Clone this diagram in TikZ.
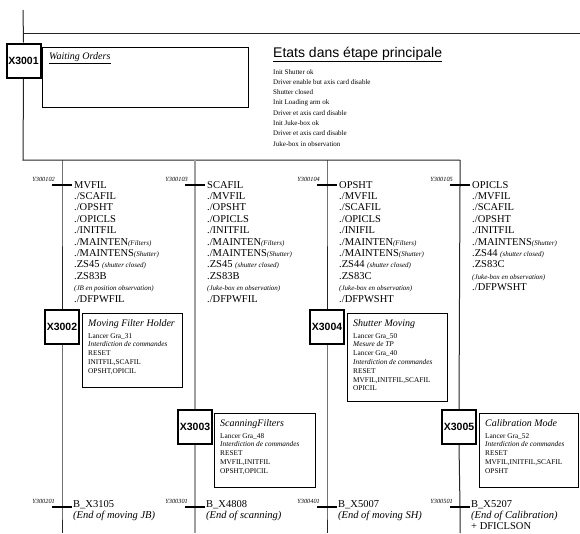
\documentclass[tikz,border=0pt]{standalone}
\usepackage{fontspec}
\setmainfont{Liberation Serif}
\newfontfamily\sansf{Liberation Sans}
\newcommand\smi[1]{{\itshape\fontsize{7}{8}\selectfont #1}}
\begin{document}
\begin{tikzpicture}[x=1pt,y=-1pt,
  wire/.style={line width=1pt, black!85},
  gwire/.style={line width=1.2pt, gray!75},
  stepbox/.style={draw, line width=2pt, minimum width=34, minimum height=34, inner sep=0, font=\sansf\bfseries\fontsize{10.5}{12}\selectfont},
  cmtbox/.style={draw, line width=0.9pt, inner sep=0, anchor=north west},
  cmttitle/.style={anchor=north west, inner sep=0, font=\itshape\fontsize{10}{11}\selectfont},
  cmttext/.style={anchor=north west, align=left, inner sep=0, font=\fontsize{7.3}{8.8}\selectfont},
  trans/.style={fill=black, minimum width=20, minimum height=2.2, inner sep=0},
  tlabel/.style={anchor=south east, inner sep=0, font=\itshape\fontsize{6.3}{7}\selectfont},
  recept/.style={anchor=north west, align=left, inner sep=0, font=\fontsize{10.5}{11.4}\selectfont},
  brecept/.style={anchor=north west, align=left, inner sep=0, font=\fontsize{10.5}{11}\selectfont},
]
\useasboundingbox (0,0) rectangle (580,533);
\fill[white] (0,0) rectangle (580,533);

% top structure
\coordinate (top0) at (23,10);
\coordinate (hA) at (23,33);
\coordinate (hB) at (580,33);
\coordinate (busL) at (23,160);
\coordinate (busR) at (460,160);
\draw[wire] (hA) -- (hB);

\node[stepbox] (X3001) at (23.5,60.5) {X3001};
\node[cmtbox, minimum width=206, minimum height=60] (c1) at (42,47) {};
\node[anchor=west, inner sep=0, font=\itshape\fontsize{10}{11}\selectfont] (c1t) at (49,57) {Waiting Orders};
\draw[line width=0.6pt] ([yshift=-1.2pt]c1t.south west) -- ([yshift=-1.2pt]c1t.south east);

\node[anchor=west, inner sep=0, font=\sansf\fontsize{14}{16}\selectfont] (title) at (273,54) {Etats dans étape principale};
\draw[line width=0.8pt] ([yshift=-0.8pt]title.south west) -- ([yshift=-0.8pt]title.south east);
\node[anchor=north west, align=left, inner sep=0, font=\fontsize{7}{10.3}\selectfont] (states) at (273,69)
 {Init Shutter ok\\Driver enable but axis card disable\\Shutter closed\\Init Loading arm ok\\Driver et axis card disable\\Init Juke-box ok\\Driver et axis card disable\\Juke-box in observation};

\draw[wire] (top0) -- (X3001.north);
\draw[wire] (X3001.south) -- (busL) -- (busR);

% branch coordinates
\coordinate (b1) at (62,160);
\coordinate (b2) at (195,160);
\coordinate (b3) at (327,160);
\coordinate (b4) at (460,160);
\coordinate (e1) at (62,533);
\coordinate (e2) at (195,533);
\coordinate (e3) at (327,533);
\coordinate (e4) at (460,533);

% upper transitions
\node[trans] (t1) at (62,185) {};
\node[trans] (t2) at (195,185) {};
\node[trans] (t3) at (327,185) {};
\node[trans] (t4) at (460,185) {};
\node[tlabel] (l1) at ([shift={(-7,-3)}]t1.center) {Y300102};
\node[tlabel] (l2) at ([shift={(-7,-3)}]t2.center) {Y300103};
\node[tlabel] (l3) at ([shift={(-7,-3)}]t3.center) {Y300104};
\node[tlabel] (l4) at ([shift={(-7,-3)}]t4.center) {Y300105};

\node[recept] (r1) at (74,181) {MVFIL\\./SCAFIL\\./OPSHT\\./OPICLS\\./INITFIL\\./MAINTEN\smi{(Filters)}\\./MAINTENS\smi{(Shutter)}\\.ZS45 \smi{(shutter closed)}\\.ZS83B\\\smi{(JB en position observation)}\\./DFPWFIL};
\node[recept] (r2) at (207,181) {SCAFIL\\./MVFIL\\./OPSHT\\./OPICLS\\./INITFIL\\./MAINTEN\smi{(Filters)}\\./MAINTENS\smi{(Shutter)}\\.ZS45 \smi{(shutter closed)}\\.ZS83B\\\smi{(Juke-box en observation)}\\./DFPWFIL};
\node[recept] (r3) at (339,181) {OPSHT\\./MVFIL\\./SCAFIL\\./OPICLS\\./INIFIL\\./MAINTEN\smi{(Filters)}\\./MAINTENS\smi{(Shutter)}\\.ZS44 \smi{(shutter closed)}\\.ZS83C\\\smi{(Juke-box en observation)}\\./DFPWSHT};
\node[recept] (r4) at (472,181) {OPICLS\\./MVFIL\\./SCAFIL\\./OPSHT\\./INITFIL\\./MAINTENS\smi{(Shutter)}\\.ZS44 \smi{(shutter closed)}\\.ZS83C\\\smi{(Juke-box en observation)}\\./DFPWSHT};

% steps
\node[stepbox] (X3002) at (62,327) {X3002};
\node[stepbox] (X3003) at (195,427) {X3003};
\node[stepbox] (X3004) at (327,327) {X3004};
\node[stepbox] (X3005) at (459,427) {X3005};

% comment boxes
\node[cmtbox, minimum width=100, minimum height=74] (c2) at (82,313) {};
\node[cmttitle] (c2t) at ([shift={(6,6)}]c2.north west) {Moving Filter Holder};
\node[cmttext] (c2b) at ([shift={(6,20)}]c2.north west) {Lancer Gra\_31\\\textit{Interdiction de commandes}\\RESET\\INITFIL,SCAFIL\\OPSHT,OPICIL};

\node[cmtbox, minimum width=101, minimum height=74] (c3) at (214,413) {};
\node[cmttitle] (c3t) at ([shift={(6,6)}]c3.north west) {ScanningFilters};
\node[cmttext] (c3b) at ([shift={(6,20)}]c3.north west) {Lancer Gra\_48\\\textit{Interdiction de commandes}\\RESET\\MVFIL,INITFIL\\OPSHT,OPICIL};

\node[cmtbox, minimum width=100, minimum height=88] (c4) at (347,313) {};
\node[cmttitle] (c4t) at ([shift={(6,6)}]c4.north west) {Shutter Moving};
\node[cmttext] (c4b) at ([shift={(6,20)}]c4.north west) {Lancer Gra\_50\\\textit{Mesure de TP}\\Lancer Gra\_40\\\textit{Interdiction de commandes}\\RESET\\MVFIL,INITFIL,SCAFIL\\OPICIL};

\node[cmtbox, minimum width=99, minimum height=74] (c5) at (479,413) {};
\node[cmttitle] (c5t) at ([shift={(6,6)}]c5.north west) {Calibration Mode};
\node[cmttext] (c5b) at ([shift={(6,20)}]c5.north west) {Lancer Gra\_52\\\textit{Interdiction de commandes}\\RESET\\MVFIL,INITFIL,SCAFIL\\OPSHT};

% lower transitions
\node[trans] (u1) at (62,507) {};
\node[trans] (u2) at (195,507) {};
\node[trans] (u3) at (327,507) {};
\node[trans] (u4) at (460,507) {};
\node[tlabel] (m1) at ([shift={(-7,-3)}]u1.center) {Y300201};
\node[tlabel] (m2) at ([shift={(-7,-3)}]u2.center) {Y300301};
\node[tlabel] (m3) at ([shift={(-7,-3)}]u3.center) {Y300401};
\node[tlabel] (m4) at ([shift={(-7,-3)}]u4.center) {Y300501};
\node[brecept] (s1) at (73,500) {B\_X3105\\\textit{(End of moving JB)}};
\node[brecept] (s2) at (206,500) {B\_X4808\\\textit{(End of scanning)}};
\node[brecept] (s3) at (338,500) {B\_X5007\\\textit{(End of moving SH)}};
\node[brecept] (s4) at (471,500) {B\_X5207\\\textit{(End of Calibration)}\\+ DFICLSON};

% branch wires
\draw[wire] (b1) -- (t1.center) -- (X3002.north);
\draw[wire] (X3002.south) -- (u1.center) -- (e1);
\draw[gwire] (b2) -- (t2.center) -- (X3003.north);
\draw[gwire] (X3003.south) -- (u2.center) -- (e2);
\draw[wire] (b3) -- (t3.center) -- (X3004.north);
\draw[wire] (X3004.south) -- (u3.center) -- (e3);
\draw[wire] (b4) -- (t4.center) -- (X3005.north);
\draw[wire] (X3005.south) -- (u4.center) -- (e4);
% redraw transition bars on top
\foreach \n in {t1,t2,t3,t4,u1,u2,u3,u4} {\fill[black] (\n.south west) rectangle (\n.north east);}
\end{tikzpicture}
\end{document}
